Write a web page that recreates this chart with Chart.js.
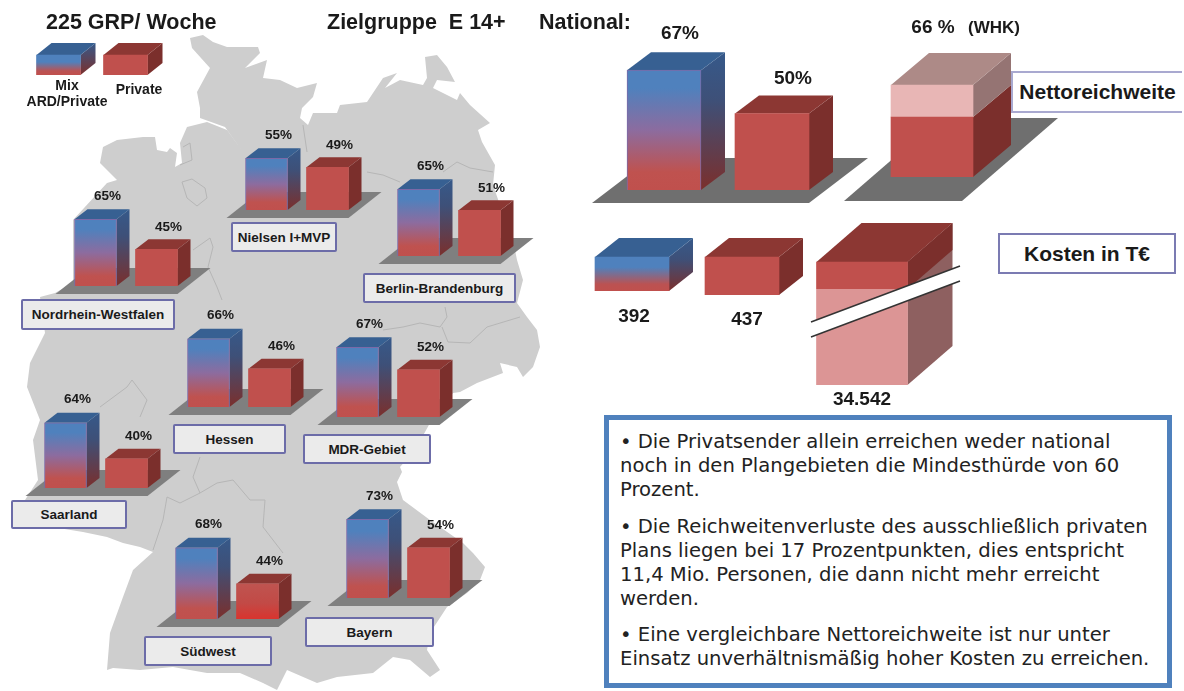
<!DOCTYPE html>
<html lang="de">
<head>
<meta charset="utf-8">
<title>225 GRP/ Woche</title>
<script src="https://cdn.jsdelivr.net/npm/chart.js@4"></script>
<style>
html,body{margin:0;padding:0;background:#fff;width:1184px;height:691px;overflow:hidden}
#stage{position:absolute;left:0;top:0;width:1184px;height:691px;overflow:hidden;filter:blur(.55px);font-family:"Liberation Sans",Arial,sans-serif;color:#1a1a1a}
#stage canvas{position:absolute}
svg{position:absolute;left:0;top:0}
.t{position:absolute;white-space:nowrap;font-weight:bold;transform:translate(-50%,-50%)}
.h{position:absolute;white-space:nowrap;font-weight:bold;font-size:21.5px;transform:translateY(-50%)}
.box{position:absolute;box-sizing:border-box;display:flex;align-items:center;justify-content:center;font-weight:bold;white-space:nowrap}
.region{background:#ebebeb;border:2px solid #6c6ca8;font-size:13.5px;border-radius:2px;z-index:5}
.big{background:#fff;font-size:21px}
#info{position:absolute;box-sizing:border-box;left:604px;top:415px;width:568px;height:273px;border:5px solid #4f81bd;background:#fff;z-index:5}
.line{position:absolute;left:620px;white-space:nowrap;font:19.6px "DejaVu Sans",sans-serif;color:#222;transform:translateY(-50%);z-index:6}
</style>
</head>
<body>
<div id="stage">
<svg width="1184" height="691">
<path fill="#cecece" d="M190 38L203 35 213 42 227 47 258 47 260 53 245 68 267 60 263 78 280 80 297 88 317 83 313 97 302 108 300 118 308 125 313 113 337 113 340 105 367 102 373 93 383 78 397 73 385 88 400 80 423 85 427 78 425 57 437 55 447 67 455 82 437 80 433 88 457 100 460 93 470 105 490 123 478 130 482 142 495 165 493 185 500 205 512 235 517 260 523 280 517 303 527 317 537 330 540 347 533 367 523 377 517 367 500 363 503 373 477 383 460 392 453 393 430 423 415 450 400 467 402 472 397 482 403 500 430 520 463 543 473 553 485 567 480 580 467 593 447 607 430 633 427 650 440 670 430 677 410 660 393 657 373 673 337 677 317 683 287 670 277 690 263 683 240 673 207 673 173 667 140 670 113 668 107 670 110 633 123 597 133 570 153 552 140 547 123 543 107 537 83 532 40 525 25 500 38 480 33 440 40 420 27 387 30 363 45 333 40 297 55 293 73 283 73 220 107 183 117 180 100 163 103 147 117 140 143 137 155 137 157 150 167 152 170 148 177 153 175 167 182 163 180 143 187 127 207 122 227 130 243 152 225 127 200 118 200 108 197 92 210 68 192 48Z"/>
<g fill="none" stroke="#b6b6b6" stroke-width="1">
<path d="M182 182L192 179 205 188 207 198 197 206 187 198Z"/>
<path d="M183 147L190 143 192 160 180 165"/>
<path d="M193 250L210 238 213 247 208 267 217 287 222 300"/>
<path d="M303 125L307 152"/>
<path d="M367 172L383 175 400 182M443 172L457 162 470 168 493 172"/>
<path d="M445 307L447 317 440 327 420 323 403 327 383 330M442 327L448 342 470 343 487 327 520 317"/>
<path d="M200 457L193 477 200 493 180 503 167 497 163 520 153 550M200 493L217 483 233 480 250 500 265 500 263 527 283 553"/>
<path d="M100 407L127 387 132 380 147 400 140 417"/>
</g>
</svg>

<div class="h" style="left:46px;top:22px">225 GRP/ Woche</div>
<div class="h" style="left:327px;top:22px;white-space:pre">Zielgruppe  E 14+</div>
<div class="h" style="left:539px;top:22px">National:</div>

<div class="t" style="left:67px;top:85px;font-size:14px">Mix</div>
<div class="t" style="left:67px;top:101px;font-size:14px">ARD/Private</div>
<div class="t" style="left:139px;top:89px;font-size:14px">Private</div>

<div class="box big" style="left:1011px;top:71px;width:171px;height:42px;border:2px solid #a9a9d0;border-right:0">Nettoreichweite</div>
<div class="box big" style="left:998px;top:233px;width:178px;height:41px;border:2px solid #7b7bb2;z-index:5">Kosten in T€</div>
<div class="t" style="left:994px;top:28px;font-size:17px">(WHK)</div>

<div id="info"></div>
<div class="line" style="top:441px">•  Die Privatsender allein erreichen weder national</div>
<div class="line" style="top:465px">noch in den Plangebieten die Mindesthürde von 60</div>
<div class="line" style="top:489px">Prozent.</div>
<div class="line" style="top:526px">• Die Reichweitenverluste des ausschließlich privaten</div>
<div class="line" style="top:550px">Plans liegen bei 17 Prozentpunkten, dies entspricht</div>
<div class="line" style="top:574px">11,4 Mio. Personen, die dann nicht mehr erreicht</div>
<div class="line" style="top:598px">werden.</div>
<div class="line" style="top:634px">• Eine vergleichbare Nettoreichweite ist nur unter</div>
<div class="line" style="top:658px">Einsatz unverhältnismäßig hoher Kosten zu erreichen.</div>
</div>

<script>
// ---------- data ----------
const seriesNames = ['Mix ARD/Private', 'Private'];
const regionNames = ['Nielsen I+MVP', 'Berlin-Brandenburg', 'Nordrhein-Westfalen', 'Hessen', 'MDR-Gebiet', 'Saarland', 'Südwest', 'Bayern'];
const mixReach = [55, 65, 65, 66, 67, 64, 68, 73];
const privateReach = [49, 51, 45, 46, 52, 40, 44, 54];
const nationalReach = [67, 50];
const whkPrivatePart = [50];
const whkAddedPart = [16];
const costLabels = ['Mix ARD/Private', 'Private', 'WHK'];
const costValues = [392, 437, 34542];
const legendSwatch = [1, 1];

// ---------- layout ----------
const regionLayout = [
  {x:245, base:210, box:[231,222,106,30]},
  {x:397, base:256, box:[363,273,153,30]},
  {x:74,  base:286, box:[21,299,154,31]},
  {x:187, base:407, box:[173,424,113,30]},
  {x:336, base:417, box:[303,434,128,30]},
  {x:44,  base:488, box:[11,500,116,29]},
  {x:175, base:619, box:[144,636,128,30]},
  {x:346, base:598, box:[305,617,129,30]}
];
const mixStops = [[0,'#4f81bd'],[.15,'#4f81bd'],[.5,'#8c6c9f'],[.85,'#bf524f'],[1,'#c0504d']];
const mixSide = [[0,'#36598a'],[.35,'#3e5078'],[1,'#7b2f2c']];
const mixStyle = {front:mixStops, side:mixSide, top:'#376092', border:'#7b69a8'};
const redStyle = {front:'#c0504d', side:'#7b2f2c', top:'#8c3733'};
const PAD = {left:70, right:90, top:60, bottom:40};

const cube3d = {
  id:'cube3d',
  beforeDatasetsDraw(chart, args, o){
    const c = chart.ctx;
    const poly = (pts, fill) => { c.beginPath(); pts.forEach((p,i)=> i?c.lineTo(p[0],p[1]):c.moveTo(p[0],p[1])); c.closePath(); c.fillStyle = fill; c.fill(); };
    const grad = (y0, y1, stops) => {
      if (typeof stops === 'string') return stops;
      const g = c.createLinearGradient(0, y0, 0, y1);
      stops.forEach(s => g.addColorStop(s[0], s[1]));
      return g;
    };
    c.save();
    const bottom = chart.chartArea.bottom;
    if (o.floor) {
      const f = o.floor, first = chart.getDatasetMeta(0).data[0];
      const x0 = first.x - first.width/2;
      poly([[x0+f.l,bottom+f.down],[x0+f.r,bottom+f.down],[x0+f.r+f.skew,bottom-f.up],[x0+f.l+f.skew,bottom-f.up]], f.color);
    }
    const n = chart.data.datasets.length;
    chart.data.datasets.forEach((ds, di) => {
      chart.getDatasetMeta(di).data.forEach((el, i) => {
        const s = o.styles[di][i], d = o.depths[di][i];
        const xr = el.x + el.width/2, xl = el.x - el.width/2, yT = el.y, yB = Math.min(el.base, bottom);
        poly([[xr,yT],[xr+d.dx,yT-d.dy],[xr+d.dx,yB-d.dy],[xr,yB]], grad(yT-d.dy, yB, s.side));
        if (s.band) {
          const yM = yT + (yB-yT)*s.band.ratio;
          poly([[xr,yT],[xr+d.dx,yT-d.dy],[xr+d.dx,yM-d.dy],[xr,yM]], s.band.side);
        }
        if (di === n-1) poly([[xl,yT],[xl+d.dx,yT-d.dy],[xr+d.dx,yT-d.dy],[xr,yT]], s.top);
      });
    });
    c.restore();
  },
  afterDatasetsDraw(chart, args, o){
    if (!o.label) return;
    const c = chart.ctx, bottom = chart.chartArea.bottom;
    c.save();
    c.fillStyle = '#1a1a1a';
    c.textAlign = 'center';
    c.textBaseline = 'middle';
    c.font = 'bold ' + o.label.size + 'px "Liberation Sans", Arial, sans-serif';
    const last = chart.data.datasets.length-1;
    chart.getDatasetMeta(last).data.forEach((el, i) => {
      const l = o.label.at[i];
      const y = l.from === 'base' ? bottom + l.dy : el.y + l.dy;
      c.fillText(o.label.text[i], el.x + l.dx, y);
    });
    c.restore();
  }
};

function cubeChart(cfg){
  const H = cfg.H || 130;
  const areaW = cfg.labels.length * cfg.step;
  const areaLeft = cfg.x + cfg.w/2 - cfg.step/2;
  const cv = document.createElement('canvas');
  cv.width = areaW + PAD.left + PAD.right;
  cv.height = H + PAD.top + PAD.bottom;
  cv.style.left = (areaLeft - PAD.left) + 'px';
  cv.style.top = (cfg.base - H - PAD.top) + 'px';
  cv.style.width = cv.width + 'px';
  cv.style.height = cv.height + 'px';
  cv.style.zIndex = cfg.z || 2;
  document.getElementById('stage').appendChild(cv);
  const datasets = cfg.series.map((data, di) => ({
    label: cfg.seriesNames ? cfg.seriesNames[di] : String(di),
    data,
    barThickness: cfg.w,
    borderWidth: c => ((cfg.styles[di][c.dataIndex] || cfg.styles[di][0]).border ? 1 : 0),
    borderColor: c => (cfg.styles[di][c.dataIndex] || cfg.styles[di][0]).border || 'transparent',
    backgroundColor: c => {
      const f = (cfg.styles[di][c.dataIndex] || cfg.styles[di][0]).front;
      if (typeof f === 'string') return f;
      const y = c.chart.scales.y;
      const top = y ? y.getPixelForValue(c.raw) : NaN;
      if (!Number.isFinite(top) || !Number.isFinite(y.bottom)) return f[0][1];
      const g = c.chart.ctx.createLinearGradient(0, top, 0, y.bottom);
      f.forEach(s => g.addColorStop(s[0], s[1]));
      return g;
    }
  }));
  return new Chart(cv, {
    type:'bar',
    data:{labels:cfg.labels, datasets},
    options:{
      responsive:false, animation:false, events:[],
      layout:{padding:PAD},
      scales:{
        x:{display:false, stacked:true},
        y:{display:false, stacked:true, min:cfg.min, max:cfg.min + H/cfg.pxPerUnit}
      },
      plugins:{
        legend:{display:false}, tooltip:{enabled:false},
        cube3d:{styles:cfg.styles, depths:cfg.depths, floor:cfg.floor, label:cfg.label}
      }
    },
    plugins:[cube3d]
  });
}

// ---------- regional charts ----------
const regionDepth = {dx:13, dy:10};
regionNames.forEach((name, i) => {
  const L = regionLayout[i];
  const redFront = name === 'Südwest' ? [[0,'#bf5450'],[.55,'#c24a46'],[1,'#d9342e']] : redStyle.front;
  cubeChart({
    x:L.x, base:L.base, w:42, step:61, min:20.5, pxPerUnit:1.5,
    labels:seriesNames, seriesNames:[name],
    series:[[mixReach[i], privateReach[i]]],
    styles:[[mixStyle, Object.assign({}, redStyle, {front:redFront})]],
    depths:[[regionDepth, regionDepth]],
    floor:{l:-19, r:103, down:8, up:18, skew:33, color:'#7f7f7f'},
    label:{size:13.5, text:[mixReach[i]+'%', privateReach[i]+'%'], at:[{dx:12,dy:-23},{dx:12,dy:-22}]}
  });
  const b = document.createElement('div');
  b.className = 'box region';
  b.textContent = name;
  b.style.cssText = `left:${L.box[0]}px;top:${L.box[1]}px;width:${L.box[2]}px;height:${L.box[3]}px`;
  document.getElementById('stage').appendChild(b);
});

// ---------- legend swatches ----------
const legendDepth = {dx:15, dy:12};
cubeChart({
  x:36, base:75, w:44, step:67, min:0, pxPerUnit:20, H:40,
  labels:seriesNames, seriesNames:['Legende'],
  series:[legendSwatch],
  styles:[[{front:[[0,'#4f81bd'],[.35,'#4f81bd'],[.8,'#bb5252'],[1,'#c0504d']], side:[[0,'#36598a'],[1,'#7b2f2c']], top:'#376092'}, redStyle]],
  depths:[[legendDepth, legendDepth]]
});

// ---------- national chart ----------
const natDepth = {dx:24, dy:18};
cubeChart({
  x:627, base:190, w:74, step:108, min:20, pxPerUnit:2.55,
  labels:seriesNames, seriesNames:['National'],
  series:[nationalReach],
  styles:[[mixStyle, redStyle]],
  depths:[[natDepth, natDepth]],
  floor:{l:-35, r:182, down:13, up:32, skew:59, color:'#6f6f6f'},
  label:{size:19, text:nationalReach.map(v=>v+'%'), at:[{dx:16,dy:-36},{dx:21,dy:-35}]}
});

// ---------- WHK chart (stacked) ----------
const whkDepth = {dx:38, dy:32};
cubeChart({
  x:891, base:177, w:82, step:100, min:20, pxPerUnit:2, z:3,
  labels:['WHK'], seriesNames:['Privat','WHK'],
  series:[whkPrivatePart, whkAddedPart],
  styles:[[{front:'#c0504d', side:'#7b2f2c', top:'#8c3733'}],[{front:'#e8b6b5', side:'#957473', top:'#ad8a87'}]],
  depths:[[whkDepth],[whkDepth]],
  floor:{l:-47, r:71, down:24, up:59, skew:96, color:'#6f6f6f'},
  label:{size:19, text:[(whkPrivatePart[0]+whkAddedPart[0])+' %'], at:[{dx:1,dy:-57}]}
});

// ---------- cost charts ----------
const costDepth = {dx:24, dy:19};
const costPx = 0.0868;
cubeChart({
  x:595, base:291, w:74, step:90, min:0, pxPerUnit:costPx, H:60,
  labels:[costLabels[0]], seriesNames:['Kosten'], series:[[costValues[0]]],
  styles:[[{front:[[0,'#4f81bd'],[.3,'#4f81bd'],[.8,'#bb5252'],[1,'#c0504d']], side:[[0,'#36598a'],[.4,'#3e5078'],[1,'#7b2f2c']], top:'#376092'}]],
  depths:[[costDepth]],
  label:{size:19, text:['392'], at:[{dx:2,dy:26,from:'base'}]}
});
cubeChart({
  x:705, base:295, w:74, step:90, min:0, pxPerUnit:costPx, H:60,
  labels:[costLabels[1]], seriesNames:['Kosten'], series:[[costValues[1]]],
  styles:[[redStyle]],
  depths:[[costDepth]],
  label:{size:19, text:['437'], at:[{dx:5,dy:25,from:'base'}]}
});
// the third bar sits on a broken axis: it has its own scale
cubeChart({
  x:816, base:385, w:91, step:110, min:0, pxPerUnit:123/costValues[2], H:130,
  labels:[costLabels[2]], seriesNames:['Kosten'], series:[[costValues[2]]],
  styles:[[{front:[[0,'#c0504d'],[.22,'#c0504d'],[.22,'#dc9595'],[1,'#dc9595']], side:'#8e6060', top:'#8c3733', band:{ratio:.22, side:'#7b2f2c'}}]],
  depths:[[{dx:45, dy:39}]],
  label:{size:19, text:['34.542'], at:[{dx:0,dy:15,from:'base'}]}
});
</script>
<svg width="1184" height="691" style="z-index:4;filter:blur(.55px)">
<path fill="#fff" d="M811 322L960 266 960 281 811 337Z"/>
<path fill="none" stroke="#333" stroke-width="1.5" d="M811 322L960 266M811 337L960 281"/>
</svg>
</body>
</html>
